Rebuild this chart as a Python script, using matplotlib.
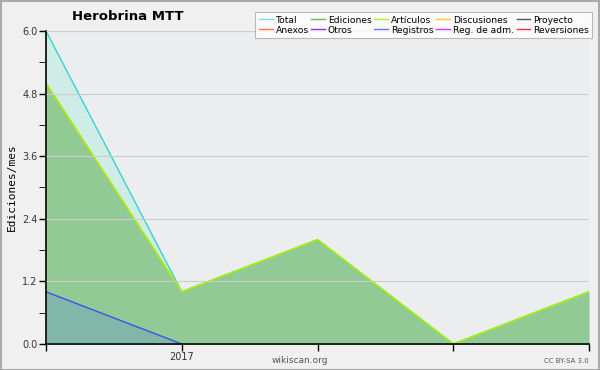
import numpy as np
import matplotlib.pyplot as plt
from matplotlib.lines import Line2D

# Daten (Monate Dez 2016 - Apr 2017)
months = ["2016-12", "2017-01", "2017-02", "2017-03", "2017-04"]
tick_labels = ["", "2017", "", "", ""]
total = [6, 1, 2, 0, 1]
ediciones = [5, 1, 2, 0, 1]
articulos = [5, 1, 2, 0, 1]
registros = [1, 0, 0, 0, 0]

legend_names = ["Total", "Ediciones", "Artículos", "Discusiones", "Proyecto",
                "Anexos", "Otros", "Registros", "Reg. de adm.", "Reversiones"]
legend_colors = ["#7fdfdf", "#66bb66", "#bbee22", "#ffcc22", "#555555",
                 "#ff7733", "#8833dd", "#6677ff", "#dd33ee", "#ee3333"]

x = np.arange(len(months))

fig = plt.figure(figsize=(6, 3.7), dpi=100, facecolor="#f0f0f0")
ax = fig.add_axes([0.0767, 0.0703, 0.905, 0.846])
ax.set_facecolor("#ecedef")

# Flächen
ax.fill_between(x, total, color="#c8ece6", alpha=0.8, lw=0)
ax.plot(x, total, color="#33d6cc", lw=1)
ax.fill_between(x, ediciones, color="#92ca95", lw=0)
ax.plot(x, articulos, color="#aaee00", lw=1.2)
ax.fill_between(x[:2], registros[:2], color="#6f9fc0", alpha=0.45, lw=0)
ax.plot(x[:2], registros[:2], color="#3355ee", lw=1)

ax.set_xlim(0, len(months) - 1)
ax.set_ylim(0, 6)
ax.set_xticks(x)
ax.set_xticklabels(tick_labels, fontsize=7, color="#333333")
ax.set_yticks(np.arange(0, 6.01, 1.2))
ax.set_yticklabels([f"{v:.1f}" for v in np.arange(0, 6.01, 1.2)], fontsize=7, color="#333333")
ax.set_yticks(np.arange(0, 6.01, 0.6), minor=True)
ax.tick_params(axis="both", length=5, width=1, pad=1)
ax.tick_params(axis="y", which="minor", length=5)
ax.grid(axis="y", color="#cccccc", lw=0.8)
ax.set_axisbelow(False)
for s in ["top", "right"]:
    ax.spines[s].set_visible(False)
ax.spines["left"].set_linewidth(1.2)
ax.spines["bottom"].set_linewidth(1.2)

ax.set_ylabel("Ediciones/mes", family="DejaVu Sans Mono", fontsize=8)
fig.text(0.213, 0.955, "Herobrina MTT", fontsize=9.5, fontweight="bold", ha="center", va="center")
fig.text(0.5, 0.025, "wikiscan.org", fontsize=6.5, color="#555555", ha="center", va="center")
fig.text(0.982, 0.025, "CC BY-SA 3.0", fontsize=5, color="#555555", ha="right", va="center")

handles = [Line2D([], [], color=c, lw=1) for c in legend_colors]
order = [0, 5, 1, 6, 2, 7, 3, 8, 4, 9]
leg = fig.legend([handles[i] for i in order], [legend_names[i] for i in order],
                 ncol=5, loc="upper right", bbox_to_anchor=(0.995, 0.98),
                 fontsize=6.6, frameon=True, fancybox=False, handlelength=1.5,
                 handletextpad=0.3, columnspacing=0.3, labelspacing=0.1,
                 borderpad=0.4, edgecolor="#aaaaaa")
leg.get_frame().set_linewidth(0.8)

# Rahmen
fig.patches.append(plt.Rectangle((0.001, 0.001), 0.997, 0.997, transform=fig.transFigure,
                                 fill=False, edgecolor="#aaaaaa", lw=1.5))

fig.savefig("out.png", dpi=100, facecolor=fig.get_facecolor())
